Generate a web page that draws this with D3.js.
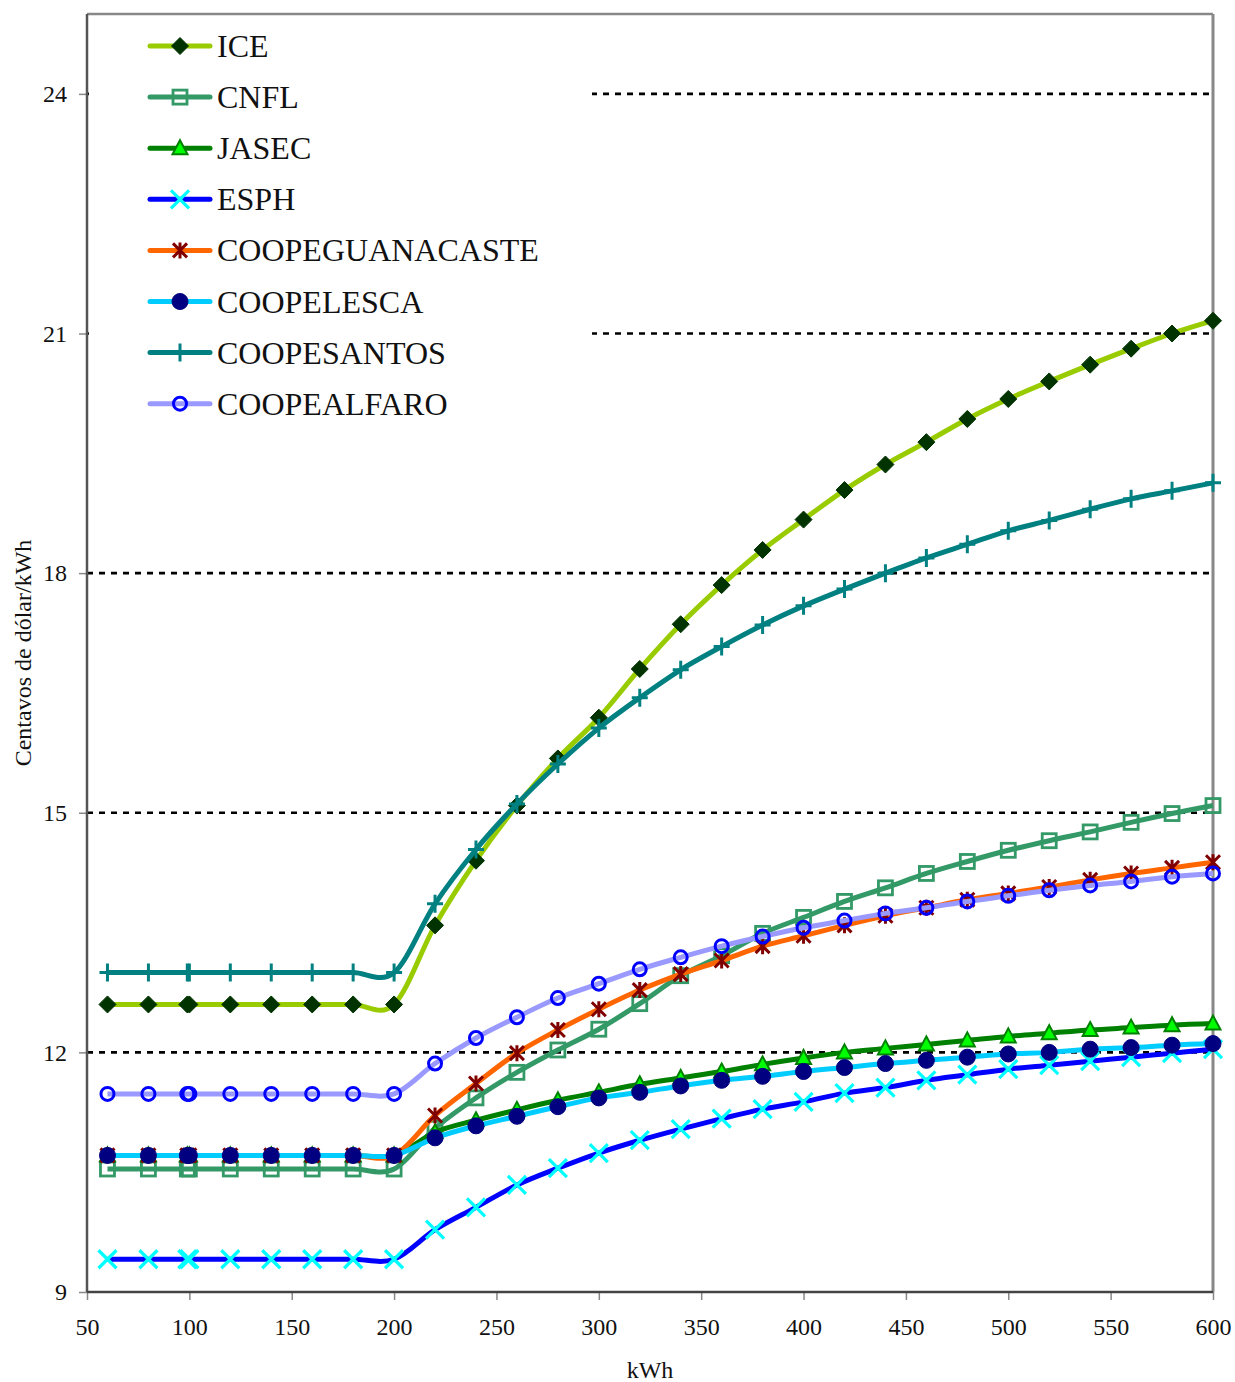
<!DOCTYPE html>
<html><head><meta charset="utf-8">
<script src="https://cdn.jsdelivr.net/npm/d3@7"></script>
<style>body{margin:0;background:#fff}svg{display:block}text{font-family:"Liberation Serif","Times New Roman",serif;fill:#111}</style>
</head><body>
<script>
const kwh = [60,80,99,100,120,140,160,180,200,220,240,260,280,300,320,340,360,380,400,420,440,460,480,500,520,540,560,580,600];
const ICE = [12.6,12.6,12.6,12.6,12.6,12.6,12.6,12.6,12.6,13.59,14.4,15.09,15.68,16.19,16.8,17.36,17.85,18.29,18.67,19.04,19.36,19.64,19.93,20.18,20.4,20.61,20.81,21.0,21.16];
const CNFL = [10.54,10.54,10.54,10.54,10.54,10.54,10.54,10.54,10.54,11.05,11.43,11.75,12.03,12.29,12.61,12.96,13.21,13.49,13.69,13.89,14.06,14.24,14.39,14.53,14.65,14.76,14.88,14.99,15.09];
const JASEC = [10.71,10.71,10.71,10.71,10.71,10.71,10.71,10.71,10.71,11.0,11.15,11.28,11.4,11.5,11.6,11.68,11.76,11.85,11.93,12.0,12.05,12.1,12.15,12.2,12.24,12.28,12.31,12.34,12.36];
const ESPH = [9.41,9.41,9.41,9.41,9.41,9.41,9.41,9.41,9.41,9.78,10.06,10.34,10.55,10.74,10.9,11.04,11.17,11.29,11.38,11.49,11.56,11.65,11.72,11.79,11.84,11.89,11.94,11.99,12.04];
const COOPEGUANACASTE = [10.71,10.71,10.71,10.71,10.71,10.71,10.71,10.71,10.71,11.21,11.61,11.99,12.28,12.54,12.78,12.98,13.15,13.33,13.46,13.59,13.71,13.81,13.91,13.99,14.07,14.16,14.24,14.31,14.38];
const COOPELESCA = [10.71,10.71,10.71,10.71,10.71,10.71,10.71,10.71,10.71,10.93,11.08,11.2,11.32,11.43,11.5,11.58,11.65,11.7,11.76,11.81,11.86,11.9,11.94,11.98,12.0,12.04,12.06,12.09,12.11];
const COOPESANTOS = [13.0,13.0,13.0,13.0,13.0,13.0,13.0,13.0,13.0,13.86,14.54,15.11,15.61,16.06,16.44,16.79,17.08,17.35,17.59,17.8,18.0,18.19,18.36,18.53,18.66,18.8,18.93,19.03,19.13];
const COOPEALFARO = [11.48,11.48,11.48,11.48,11.48,11.48,11.48,11.48,11.48,11.86,12.18,12.44,12.68,12.86,13.04,13.19,13.33,13.45,13.56,13.65,13.74,13.81,13.89,13.96,14.03,14.09,14.14,14.2,14.24];

const seriesNames = ["ICE","CNFL","JASEC","ESPH","COOPEGUANACASTE","COOPELESCA","COOPESANTOS","COOPEALFARO"];
const seriesValues = [ICE,CNFL,JASEC,ESPH,COOPEGUANACASTE,COOPELESCA,COOPESANTOS,COOPEALFARO];
const xTicks = [50,100,150,200,250,300,350,400,450,500,550,600];
const yTicks = [9,12,15,18,21,24];
const gridValues = [12,15,18,21,24];
const xTitle = "kWh";
const yTitle = "Centavos de dólar/kWh";

// styles
const lineColors = ["#99CC00","#339966","#008000","#0000FF","#FF6600","#00CCFF","#008080","#9999FF"];
const markerTypes = ["diamond","square","triangle","x","asterisk","dot","plus","ring"];
const markerStroke = ["#003300","#339966","#008000","#00FFFF","#800000","#000080","#008080","#0000FF"];
const markerFill = ["#003300","none","#00FF00","none","none","#000080","none","none"];

const W = 1235, H = 1382;
const m = {left:87, right:1213, top:14, bottom:1292};
const x = d3.scaleLinear().domain([50,600]).range([m.left,m.right]);
const y = d3.scaleLinear().domain([9,25]).range([m.bottom,m.top]);

const svg = d3.select("body").append("svg").attr("width",W).attr("height",H);

// gridlines
svg.append("g").selectAll("line").data(gridValues).join("line")
  .attr("x1",m.left).attr("x2",m.right)
  .attr("y1",d=>y(d)).attr("y2",d=>y(d))
  .attr("stroke","#000").attr("stroke-width",2.6).attr("stroke-dasharray","6,6");

// legend background (covers gridlines)
svg.append("rect").attr("x",m.left+2).attr("y",m.top+2).attr("width",503).attr("height",415).attr("fill","#fff");

// axes
const yAxis = d3.axisLeft(y).tickValues(yTicks).tickSize(8).tickPadding(12).tickFormat(d3.format("d"));
const gy = svg.append("g").attr("transform",`translate(${m.left},0)`).call(yAxis);
gy.select(".domain").remove();
gy.selectAll(".tick line").attr("stroke","#888").attr("stroke-width",1.5);
gy.selectAll(".tick text").attr("font-size",24).attr("font-family","Liberation Serif, serif").attr("fill","#111");

const xAxis = d3.axisBottom(x).tickValues(xTicks).tickSize(8).tickPadding(18).tickFormat(d3.format("d"));
const gx = svg.append("g").attr("transform",`translate(0,${m.bottom})`).call(xAxis);
gx.select(".domain").remove();
gx.selectAll(".tick line").attr("stroke","#888").attr("stroke-width",1.5);
gx.selectAll(".tick text").attr("font-size",24).attr("font-family","Liberation Serif, serif").attr("fill","#111");

// frame
svg.append("line").attr("x1",m.left).attr("x2",m.right).attr("y1",m.top).attr("y2",m.top).attr("stroke","#888").attr("stroke-width",2.5);
svg.append("line").attr("x1",m.right).attr("x2",m.right).attr("y1",m.top).attr("y2",m.bottom).attr("stroke","#888").attr("stroke-width",3);
svg.append("line").attr("x1",m.left).attr("x2",m.left).attr("y1",m.top).attr("y2",m.bottom).attr("stroke","#555").attr("stroke-width",2.5);
svg.append("line").attr("x1",m.left).attr("x2",m.right).attr("y1",m.bottom).attr("y2",m.bottom).attr("stroke","#444").attr("stroke-width",2.5);

// titles
svg.append("text").attr("x",650).attr("y",1378).attr("text-anchor","middle").attr("font-size",24).text(xTitle);
svg.append("text").attr("transform","translate(31,653) rotate(-90)").attr("text-anchor","middle").attr("font-size",24).text(yTitle);

// markers
function drawMarker(g, type, cx, cy, i){
  const s = markerStroke[i], f = markerFill[i];
  if(type==="diamond"){
    g.append("path").attr("d",`M${cx},${cy-8.5}L${cx+8.5},${cy}L${cx},${cy+8.5}L${cx-8.5},${cy}Z`).attr("fill",f).attr("stroke",s).attr("stroke-width",1);
  } else if(type==="square"){
    g.append("rect").attr("x",cx-7).attr("y",cy-7).attr("width",14).attr("height",14).attr("fill","none").attr("stroke",s).attr("stroke-width",2.8);
  } else if(type==="triangle"){
    g.append("path").attr("d",`M${cx},${cy-8}L${cx+7.5},${cy+6}L${cx-7.5},${cy+6}Z`).attr("fill",f).attr("stroke",s).attr("stroke-width",2);
  } else if(type==="x"){
    g.append("path").attr("d",`M${cx-9},${cy-9}L${cx+9},${cy+9}M${cx-9},${cy+9}L${cx+9},${cy-9}`).attr("stroke",s).attr("stroke-width",3.2).attr("fill","none");
  } else if(type==="asterisk"){
    g.append("path").attr("d",`M${cx-7},${cy-7}L${cx+7},${cy+7}M${cx-7},${cy+7}L${cx+7},${cy-7}M${cx},${cy-8}L${cx},${cy+8}`).attr("stroke",s).attr("stroke-width",3).attr("fill","none");
  } else if(type==="dot"){
    g.append("circle").attr("cx",cx).attr("cy",cy).attr("r",8).attr("fill",f).attr("stroke",s).attr("stroke-width",1);
  } else if(type==="plus"){
    g.append("path").attr("d",`M${cx-8},${cy}L${cx+8},${cy}M${cx},${cy-9}L${cx},${cy+9}`).attr("stroke",s).attr("stroke-width",3).attr("fill","none");
  } else if(type==="ring"){
    g.append("circle").attr("cx",cx).attr("cy",cy).attr("r",6.5).attr("fill","none").attr("stroke",s).attr("stroke-width",3);
  }
}

const line = d3.line().x(d=>x(d[0])).y(d=>y(d[1])).curve(d3.curveCatmullRom.alpha(0));
const plot = svg.append("g");
seriesValues.forEach((vals,i)=>{
  const pts = kwh.map((k,j)=>[k,vals[j]]);
  const g = plot.append("g");
  g.append("path").datum(pts).attr("d",line).attr("fill","none").attr("stroke",lineColors[i]).attr("stroke-width",5).attr("stroke-linejoin","round");
  pts.forEach(p=>drawMarker(g, markerTypes[i], x(p[0]), y(p[1]), i));
});

// legend
const lg = svg.append("g");
seriesNames.forEach((name,i)=>{
  const cy = 46 + i*51.1;
  lg.append("line").attr("x1",150).attr("x2",210).attr("y1",cy).attr("y2",cy).attr("stroke",lineColors[i]).attr("stroke-width",5).attr("stroke-linecap","round");
  drawMarker(lg, markerTypes[i], 180, cy, i);
  lg.append("text").attr("x",217).attr("y",cy+11).attr("font-size",32).text(name);
});
</script>
</body></html>
